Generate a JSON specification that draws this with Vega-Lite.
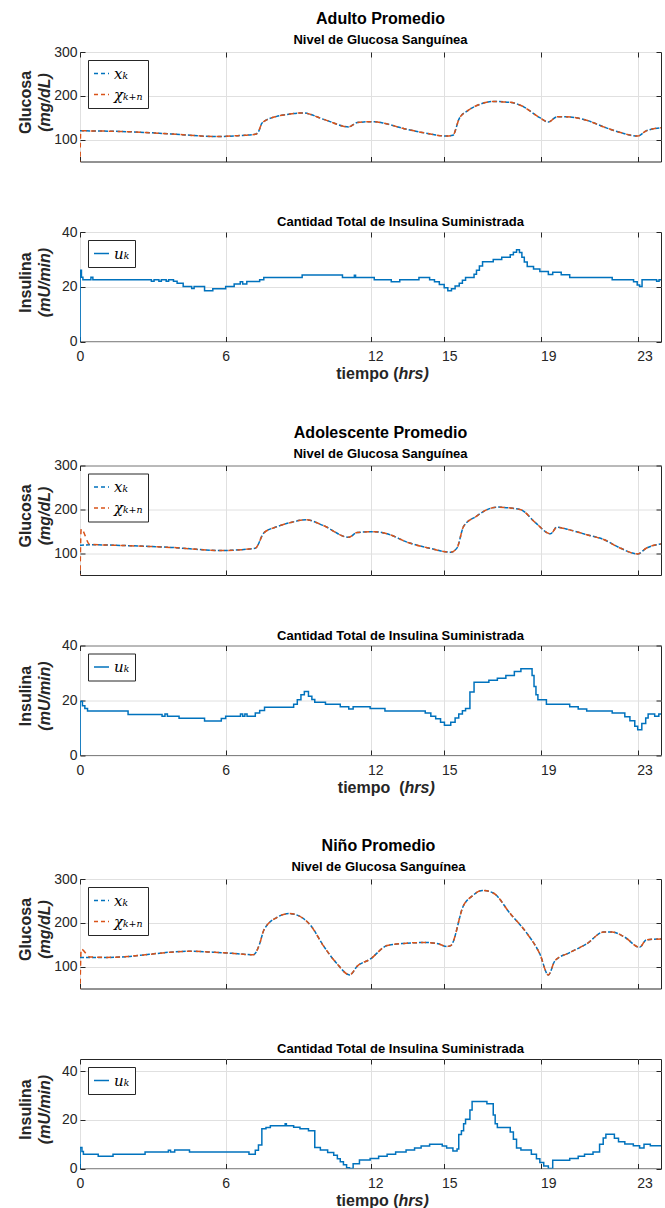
{
"$schema": "https://vega.github.io/schema/vega-lite/v6.json",
"background": "white",
"padding": {"left": 16, "top": 10, "right": 2, "bottom": 0},
"config": {
  "view": {"stroke": "#262626", "strokeWidth": 1},
  "axis": {"grid": false, "gridColor": "#e0e0e0", "gridWidth": 1, "domain": false, "tickColor": "#262626", "tickSize": -5, "tickWidth": 1, "labelFont": "Liberation Sans", "labelFontSize": 14, "labelColor": "#262626", "labelFlush": false, "titleFont": "Liberation Sans", "titleFontSize": 16, "titleFontWeight": "bold", "titleColor": "#262626"},
  "title": {"font": "Liberation Sans", "fontWeight": "bold", "color": "#000000", "subtitleFont": "Liberation Sans", "subtitleFontWeight": "bold", "subtitleColor": "#000000", "anchor": "middle"},
  "legend": {"orient": "top-left", "offset": 8, "padding": 5, "strokeColor": "#262626", "fillColor": "white", "symbolType": "stroke", "symbolSize": 225, "symbolStrokeWidth": 1.5, "labelFont": "DejaVu Serif", "labelFontSize": 15, "labelFontStyle": "italic", "labelColor": "#000000", "rowPadding": 4}
},
"resolve": {"scale": {"color": "independent"}, "legend": {"color": "independent"}},
"spacing": 41.5,
"bounds": "full",
"vconcat": [
{
 "spacing": 70, "bounds": "flush",
 "resolve": {"scale": {"color": "independent"}, "legend": {"color": "independent"}},
 "vconcat": [
  {
   "width": 581, "height": 109.5,
   "title": {"text": "Adulto Promedio", "subtitle": "Nivel de Glucosa Sanguínea", "fontSize": 16, "subtitleFontSize": 13, "subtitlePadding": 7, "offset": -2, "dx": 10},
   "data": {"values": [
    {"t":0,"x":120,"chi":40},{"t":0.03,"x":120,"chi":120},{"t":1.98,"x":118,"chi":118},{"t":3.73,"x":113,"chi":113},{"t":5.65,"x":107,"chi":107},{"t":6.5,"x":109,"chi":109},{"t":7.22,"x":112,"chi":112},{"t":7.35,"x":118,"chi":118},{"t":7.5,"x":138,"chi":138},{"t":8.1,"x":153,"chi":153},{"t":8.6,"x":158,"chi":158},{"t":9.15,"x":161,"chi":161},{"t":10.1,"x":145,"chi":145},{"t":11.07,"x":129,"chi":129},{"t":11.42,"x":139,"chi":139},{"t":12.12,"x":141,"chi":141},{"t":12.47,"x":138,"chi":138},{"t":13.35,"x":125,"chi":125},{"t":14.22,"x":115,"chi":115},{"t":15.1,"x":108,"chi":108},{"t":15.36,"x":110,"chi":110},{"t":15.62,"x":148,"chi":148},{"t":15.97,"x":166,"chi":166},{"t":16.49,"x":181,"chi":181},{"t":17.02,"x":187,"chi":187},{"t":17.72,"x":185,"chi":185},{"t":18.16,"x":178,"chi":178},{"t":18.94,"x":150,"chi":150},{"t":19.29,"x":140,"chi":140},{"t":19.64,"x":152,"chi":152},{"t":19.99,"x":152,"chi":152},{"t":20.87,"x":144,"chi":144},{"t":21.57,"x":129,"chi":129},{"t":22.27,"x":116,"chi":116},{"t":22.97,"x":108,"chi":108},{"t":23.32,"x":120,"chi":120},{"t":23.93,"x":127,"chi":127}
   ]},
   "transform": [{"fold": ["x", "chi"], "as": ["s", "g"]}],
   "resolve": {"axis": {"x": "independent", "y": "independent"}},
   "layer": [
    {"transform": [{"filter": "datum.s == 'x'"}],
     "mark": {"type": "line", "interpolate": "monotone", "strokeWidth": 1.5, "strokeDash": [4, 2], "clip": true},
     "encoding": {
      "x": {"field": "t", "type": "quantitative", "scale": {"domain": [0, 23.93], "nice": false, "zero": false}, "axis": {"values": [0, 6, 12, 15, 19, 23], "labels": false, "grid": true, "title": null}},
      "y": {"field": "g", "type": "quantitative", "scale": {"domain": [50, 300], "nice": false, "zero": false}, "axis": {"values": [100, 200, 300], "grid": true, "labelPadding": 8, "title": "Glucosa", "titleX": -55, "titleY": 50, "titleAngle": -90, "titleAlign": "center", "titleBaseline": "middle"}},
      "color": {"field": "s", "type": "nominal", "scale": {"domain": ["x", "chi"], "range": ["#0072BD", "#D95319"]}, "legend": {"title": null, "symbolDash": [4, 3], "labelExpr": "datum.label == 'x' ? 'x\u2096' : '\u03c7\u2096\u208a\u2099'"}}
     }},
    {"transform": [{"filter": "datum.s == 'chi'"}],
     "mark": {"type": "line", "interpolate": "monotone", "strokeWidth": 1.5, "strokeDash": [5, 4], "clip": true},
     "encoding": {
      "x": {"field": "t", "type": "quantitative", "scale": {"domain": [0, 23.93], "nice": false, "zero": false}, "axis": {"orient": "top", "values": [0, 6, 12, 15, 19, 23], "labels": false, "title": null}},
      "y": {"field": "g", "type": "quantitative", "scale": {"domain": [50, 300], "nice": false, "zero": false}, "axis": {"orient": "left", "labels": false, "ticks": false, "title": "(mg/dL)", "titleFontStyle": "italic", "titleX": -36, "titleY": 50, "titleAngle": -90, "titleAlign": "center", "titleBaseline": "middle"}},
      "color": {"field": "s", "type": "nominal", "scale": {"domain": ["x", "chi"], "range": ["#0072BD", "#D95319"]}, "legend": {"title": null, "symbolDash": [4, 3], "labelExpr": "datum.label == 'x' ? 'x\u2096' : '\u03c7\u2096\u208a\u2099'"}}
     }},
    {"transform": [{"filter": "datum.s == 'x'"}],
     "mark": {"type": "line", "opacity": 0},
     "encoding": {
      "x": {"field": "t", "type": "quantitative", "scale": {"domain": [0, 23.93], "nice": false, "zero": false}, "axis": null},
      "y": {"field": "g", "type": "quantitative", "scale": {"domain": [50, 300], "nice": false, "zero": false}, "axis": {"orient": "right", "values": [100, 200, 300], "labels": false, "title": null}}
     }}
   ]
  },
  {
   "width": 581, "height": 109.5,
   "title": {"text": "Cantidad Total de Insulina Suministrada", "fontSize": 13, "offset": -4, "dx": 30},
   "data": {"values": [
    {"t":0,"u":0},{"t":0.005,"u":26},{"t":0.06,"u":23.5},{"t":0.12,"u":22.6},{"t":0.45,"u":23.5},{"t":0.53,"u":22.6},{"t":2.94,"u":22},{"t":3.05,"u":22.6},{"t":3.25,"u":22},{"t":3.35,"u":22.6},{"t":3.55,"u":22},{"t":3.65,"u":22.6},{"t":3.85,"u":22},{"t":4.0,"u":21.3},{"t":4.25,"u":20.1},{"t":4.6,"u":19.4},{"t":4.7,"u":20.1},{"t":5.13,"u":18.5},{"t":5.47,"u":19.3},{"t":6.0,"u":20.1},{"t":6.35,"u":21.0},{"t":6.6,"u":21.8},{"t":6.7,"u":21},{"t":6.87,"u":21.9},{"t":7.4,"u":22.6},{"t":7.57,"u":23.4},{"t":9.15,"u":24.3},{"t":10.81,"u":23.4},{"t":11.3,"u":24.2},{"t":11.35,"u":23.4},{"t":12.12,"u":22.6},{"t":12.82,"u":21.8},{"t":13.17,"u":22.6},{"t":13.96,"u":23.4},{"t":14.4,"u":22.6},{"t":14.6,"u":21.8},{"t":14.8,"u":20.8},{"t":15.0,"u":19.6},{"t":15.15,"u":18.5},{"t":15.3,"u":19.3},{"t":15.45,"u":20.3},{"t":15.62,"u":21.3},{"t":15.75,"u":22.4},{"t":15.88,"u":23.4},{"t":16.23,"u":24.6},{"t":16.33,"u":26},{"t":16.45,"u":27.6},{"t":16.58,"u":29.1},{"t":17.02,"u":30.0},{"t":17.37,"u":30.8},{"t":17.72,"u":31.7},{"t":17.85,"u":32.6},{"t":17.98,"u":33.5},{"t":18.1,"u":32.5},{"t":18.2,"u":30.8},{"t":18.3,"u":29},{"t":18.42,"u":27.4},{"t":18.68,"u":26.5},{"t":18.94,"u":25.6},{"t":19.29,"u":24.5},{"t":19.47,"u":25.3},{"t":19.82,"u":24.4},{"t":20.17,"u":23.4},{"t":21.92,"u":22.6},{"t":22.8,"u":21.8},{"t":22.95,"u":20.6},{"t":23.05,"u":20.1},{"t":23.15,"u":22.6},{"t":23.75,"u":22},{"t":23.85,"u":22.6},{"t":23.93,"u":22.6}
   ]},
   "resolve": {"axis": {"x": "independent", "y": "independent"}},
   "layer": [
    {"mark": {"type": "line", "interpolate": "step-after", "strokeWidth": 1.5, "clip": true},
     "encoding": {
      "x": {"field": "t", "type": "quantitative", "scale": {"domain": [0, 23.93], "nice": false, "zero": false}, "axis": {"values": [0, 6, 12, 15, 19, 23], "grid": true, "labelPadding": 13, "labelOffset": {"condition": [{"test": "datum.value == 12", "value": 4}, {"test": "datum.value == 15", "value": 5}, {"test": "datum.value == 19", "value": 7}, {"test": "datum.value == 23", "value": 6}], "value": 0}, "title": "tiempo (", "titleX": 318, "titleY": 37, "titleAlign": "right", "titleBaseline": "alphabetic"}},
      "y": {"field": "u", "type": "quantitative", "scale": {"domain": [0, 40], "nice": false, "zero": false}, "axis": {"values": [0, 20, 40], "grid": true, "labelPadding": 8, "title": "Insulina", "titleX": -55, "titleY": 50, "titleAngle": -90, "titleAlign": "center", "titleBaseline": "middle"}},
      "color": {"datum": "u", "scale": {"domain": ["u"], "range": ["#0072BD"]}, "legend": {"title": null, "labelExpr": "'u\u2096'"}}
     }},
    {"mark": {"type": "line", "opacity": 0},
     "encoding": {
      "x": {"field": "t", "type": "quantitative", "scale": {"domain": [0, 23.93], "nice": false, "zero": false}, "axis": {"orient": "top", "values": [0, 6, 12, 15, 19, 23], "labels": false, "title": null}},
      "y": {"field": "u", "type": "quantitative", "scale": {"domain": [0, 40], "nice": false, "zero": false}, "axis": {"orient": "left", "labels": false, "ticks": false, "title": "(mU/min)", "titleFontStyle": "italic", "titleX": -36, "titleY": 50, "titleAngle": -90, "titleAlign": "center", "titleBaseline": "middle"}}
     }},
    {"mark": {"type": "line", "opacity": 0},
     "encoding": {
      "x": {"field": "t", "type": "quantitative", "scale": {"domain": [0, 23.93], "nice": false, "zero": false}, "axis": {"orient": "bottom", "labels": false, "ticks": false, "title": "hrs)", "titleFontStyle": "italic", "titleX": 318, "titleY": 37, "titleAlign": "left", "titleBaseline": "alphabetic"}},
      "y": {"field": "u", "type": "quantitative", "scale": {"domain": [0, 40], "nice": false, "zero": false}, "axis": {"orient": "right", "values": [0, 20, 40], "labels": false, "title": null}}
     }}
   ]
  }
 ]
},
{
 "spacing": 70, "bounds": "flush",
 "resolve": {"scale": {"color": "independent"}, "legend": {"color": "independent"}},
 "vconcat": [
  {
   "width": 581, "height": 109.5,
   "title": {"text": "Adolescente Promedio", "subtitle": "Nivel de Glucosa Sanguínea", "fontSize": 16, "subtitleFontSize": 13, "subtitlePadding": 7, "offset": -2, "dx": 10},
   "data": {"values": [
    {"t":0,"x":118,"chi":40},{"t":0.05,"x":118,"chi":155},{"t":0.4,"x":119,"chi":120},{"t":1.98,"x":117,"chi":117},{"t":3.73,"x":113,"chi":113},{"t":5.82,"x":106,"chi":106},{"t":7.22,"x":111,"chi":111},{"t":7.57,"x":146,"chi":146},{"t":8.1,"x":160,"chi":160},{"t":8.62,"x":169,"chi":169},{"t":9.32,"x":176,"chi":176},{"t":10.02,"x":163,"chi":163},{"t":11.07,"x":136,"chi":136},{"t":11.42,"x":147,"chi":147},{"t":12.12,"x":149,"chi":149},{"t":12.65,"x":144,"chi":144},{"t":13.52,"x":124,"chi":124},{"t":14.4,"x":111,"chi":111},{"t":15.27,"x":102,"chi":102},{"t":15.53,"x":112,"chi":112},{"t":15.8,"x":161,"chi":161},{"t":16.32,"x":184,"chi":184},{"t":16.84,"x":201,"chi":201},{"t":17.19,"x":205,"chi":205},{"t":17.72,"x":203,"chi":203},{"t":18.16,"x":199,"chi":199},{"t":18.77,"x":169,"chi":169},{"t":19.38,"x":144,"chi":144},{"t":19.64,"x":159,"chi":159},{"t":20.17,"x":153,"chi":153},{"t":20.87,"x":142,"chi":142},{"t":21.57,"x":131,"chi":131},{"t":22.27,"x":111,"chi":111},{"t":22.97,"x":98,"chi":98},{"t":23.32,"x":111,"chi":111},{"t":23.93,"x":121,"chi":121}
   ]},
   "transform": [{"fold": ["x", "chi"], "as": ["s", "g"]}],
   "resolve": {"axis": {"x": "independent", "y": "independent"}},
   "layer": [
    {"transform": [{"filter": "datum.s == 'x'"}],
     "mark": {"type": "line", "interpolate": "monotone", "strokeWidth": 1.5, "strokeDash": [4, 2], "clip": true},
     "encoding": {
      "x": {"field": "t", "type": "quantitative", "scale": {"domain": [0, 23.93], "nice": false, "zero": false}, "axis": {"values": [0, 6, 12, 15, 19, 23], "labels": false, "grid": true, "title": null}},
      "y": {"field": "g", "type": "quantitative", "scale": {"domain": [50, 300], "nice": false, "zero": false}, "axis": {"values": [100, 200, 300], "grid": true, "labelPadding": 8, "title": "Glucosa", "titleX": -55, "titleY": 50, "titleAngle": -90, "titleAlign": "center", "titleBaseline": "middle"}},
      "color": {"field": "s", "type": "nominal", "scale": {"domain": ["x", "chi"], "range": ["#0072BD", "#D95319"]}, "legend": {"title": null, "symbolDash": [4, 3], "labelExpr": "datum.label == 'x' ? 'x\u2096' : '\u03c7\u2096\u208a\u2099'"}}
     }},
    {"transform": [{"filter": "datum.s == 'chi'"}],
     "mark": {"type": "line", "interpolate": "monotone", "strokeWidth": 1.5, "strokeDash": [5, 4], "clip": true},
     "encoding": {
      "x": {"field": "t", "type": "quantitative", "scale": {"domain": [0, 23.93], "nice": false, "zero": false}, "axis": {"orient": "top", "values": [0, 6, 12, 15, 19, 23], "labels": false, "title": null}},
      "y": {"field": "g", "type": "quantitative", "scale": {"domain": [50, 300], "nice": false, "zero": false}, "axis": {"orient": "left", "labels": false, "ticks": false, "title": "(mg/dL)", "titleFontStyle": "italic", "titleX": -36, "titleY": 50, "titleAngle": -90, "titleAlign": "center", "titleBaseline": "middle"}},
      "color": {"field": "s", "type": "nominal", "scale": {"domain": ["x", "chi"], "range": ["#0072BD", "#D95319"]}, "legend": {"title": null, "symbolDash": [4, 3], "labelExpr": "datum.label == 'x' ? 'x\u2096' : '\u03c7\u2096\u208a\u2099'"}}
     }},
    {"transform": [{"filter": "datum.s == 'x'"}],
     "mark": {"type": "line", "opacity": 0},
     "encoding": {
      "x": {"field": "t", "type": "quantitative", "scale": {"domain": [0, 23.93], "nice": false, "zero": false}, "axis": null},
      "y": {"field": "g", "type": "quantitative", "scale": {"domain": [50, 300], "nice": false, "zero": false}, "axis": {"orient": "right", "values": [100, 200, 300], "labels": false, "title": null}}
     }}
   ]
  },
  {
   "width": 581, "height": 109.5,
   "title": {"text": "Cantidad Total de Insulina Suministrada", "fontSize": 13, "offset": -4, "dx": 30},
   "data": {"values": [
    {"t":0,"u":0},{"t":0.005,"u":19.5},{"t":0.1,"u":18},{"t":0.2,"u":17},{"t":0.31,"u":16.1},{"t":1.98,"u":14.8},{"t":3.38,"u":14.2},{"t":3.5,"u":15},{"t":3.6,"u":14.2},{"t":4.08,"u":13.4},{"t":5.13,"u":12.4},{"t":5.82,"u":13.3},{"t":6.0,"u":14.2},{"t":6.61,"u":15},{"t":6.7,"u":14.2},{"t":6.79,"u":15},{"t":6.88,"u":14.2},{"t":7.22,"u":15.3},{"t":7.4,"u":16.3},{"t":7.6,"u":17.4},{"t":8.8,"u":18.5},{"t":8.95,"u":20.2},{"t":9.1,"u":22},{"t":9.24,"u":23.2},{"t":9.41,"u":21.5},{"t":9.55,"u":20.3},{"t":9.67,"u":19.3},{"t":10.11,"u":18.5},{"t":10.72,"u":17.6},{"t":11.07,"u":16.8},{"t":11.25,"u":17.6},{"t":11.95,"u":17.0},{"t":12.56,"u":16.1},{"t":14.22,"u":15.3},{"t":14.45,"u":14.2},{"t":14.65,"u":13.2},{"t":14.85,"u":12},{"t":15.01,"u":10.9},{"t":15.27,"u":12},{"t":15.45,"u":13.5},{"t":15.6,"u":15},{"t":15.75,"u":16.2},{"t":15.88,"u":17},{"t":16.06,"u":23},{"t":16.23,"u":26.6},{"t":16.84,"u":27.3},{"t":17.19,"u":28.0},{"t":17.54,"u":29},{"t":17.89,"u":30.5},{"t":18.16,"u":31.5},{"t":18.62,"u":29},{"t":18.7,"u":25},{"t":18.78,"u":22},{"t":18.86,"u":20.2},{"t":19.21,"u":18.5},{"t":20.17,"u":17.6},{"t":20.52,"u":16.8},{"t":20.87,"u":16.1},{"t":21.92,"u":15.3},{"t":22.44,"u":14},{"t":22.65,"u":12.5},{"t":22.85,"u":10.5},{"t":22.97,"u":9.2},{"t":23.14,"u":11.5},{"t":23.3,"u":13.5},{"t":23.4,"u":15},{"t":23.67,"u":14.2},{"t":23.84,"u":15},{"t":23.93,"u":15}
   ]},
   "resolve": {"axis": {"x": "independent", "y": "independent"}},
   "layer": [
    {"mark": {"type": "line", "interpolate": "step-after", "strokeWidth": 1.5, "clip": true},
     "encoding": {
      "x": {"field": "t", "type": "quantitative", "scale": {"domain": [0, 23.93], "nice": false, "zero": false}, "axis": {"values": [0, 6, 12, 15, 19, 23], "grid": true, "labelPadding": 13, "labelOffset": {"condition": [{"test": "datum.value == 12", "value": 4}, {"test": "datum.value == 15", "value": 5}, {"test": "datum.value == 19", "value": 7}, {"test": "datum.value == 23", "value": 6}], "value": 0}, "title": "tiempo \u00a0(", "titleX": 324, "titleY": 37, "titleAlign": "right", "titleBaseline": "alphabetic"}},
      "y": {"field": "u", "type": "quantitative", "scale": {"domain": [0, 40], "nice": false, "zero": false}, "axis": {"values": [0, 20, 40], "grid": true, "labelPadding": 8, "title": "Insulina", "titleX": -55, "titleY": 50, "titleAngle": -90, "titleAlign": "center", "titleBaseline": "middle"}},
      "color": {"datum": "u", "scale": {"domain": ["u"], "range": ["#0072BD"]}, "legend": {"title": null, "labelExpr": "'u\u2096'"}}
     }},
    {"mark": {"type": "line", "opacity": 0},
     "encoding": {
      "x": {"field": "t", "type": "quantitative", "scale": {"domain": [0, 23.93], "nice": false, "zero": false}, "axis": {"orient": "top", "values": [0, 6, 12, 15, 19, 23], "labels": false, "title": null}},
      "y": {"field": "u", "type": "quantitative", "scale": {"domain": [0, 40], "nice": false, "zero": false}, "axis": {"orient": "left", "labels": false, "ticks": false, "title": "(mU/min)", "titleFontStyle": "italic", "titleX": -36, "titleY": 50, "titleAngle": -90, "titleAlign": "center", "titleBaseline": "middle"}}
     }},
    {"mark": {"type": "line", "opacity": 0},
     "encoding": {
      "x": {"field": "t", "type": "quantitative", "scale": {"domain": [0, 23.93], "nice": false, "zero": false}, "axis": {"orient": "bottom", "labels": false, "ticks": false, "title": "hrs)", "titleFontStyle": "italic", "titleX": 324, "titleY": 37, "titleAlign": "left", "titleBaseline": "alphabetic"}},
      "y": {"field": "u", "type": "quantitative", "scale": {"domain": [0, 40], "nice": false, "zero": false}, "axis": {"orient": "right", "values": [0, 20, 40], "labels": false, "title": null}}
     }}
   ]
  }
 ]
},
{
 "spacing": 70, "bounds": "flush",
 "resolve": {"scale": {"color": "independent"}, "legend": {"color": "independent"}},
 "vconcat": [
  {
   "width": 581, "height": 109.5,
   "title": {"text": "Niño Promedio", "subtitle": "Nivel de Glucosa Sanguínea", "fontSize": 16, "subtitleFontSize": 13, "subtitlePadding": 7, "offset": -2, "dx": 8},
   "data": {"values": [
    {"t":0,"x":121,"chi":40},{"t":0.05,"x":121,"chi":140},{"t":0.4,"x":121,"chi":122},{"t":1.1,"x":121,"chi":121},{"t":1.98,"x":123,"chi":123},{"t":2.85,"x":128,"chi":128},{"t":3.73,"x":133,"chi":133},{"t":4.6,"x":135,"chi":135},{"t":5.47,"x":133,"chi":133},{"t":6.35,"x":130,"chi":130},{"t":7.14,"x":127,"chi":127},{"t":7.4,"x":152,"chi":152},{"t":7.57,"x":183,"chi":183},{"t":8.1,"x":212,"chi":212},{"t":8.62,"x":221,"chi":221},{"t":8.97,"x":217,"chi":217},{"t":9.5,"x":194,"chi":194},{"t":10.02,"x":148,"chi":148},{"t":10.55,"x":109,"chi":109},{"t":11.11,"x":81,"chi":81},{"t":11.42,"x":101,"chi":101},{"t":11.95,"x":117,"chi":117},{"t":12.65,"x":148,"chi":148},{"t":13.35,"x":153,"chi":153},{"t":14.22,"x":155,"chi":155},{"t":14.75,"x":152,"chi":152},{"t":15.1,"x":146,"chi":146},{"t":15.27,"x":148,"chi":148},{"t":15.8,"x":240,"chi":240},{"t":16.15,"x":261,"chi":261},{"t":16.58,"x":274,"chi":274},{"t":17.02,"x":268,"chi":268},{"t":17.72,"x":221,"chi":221},{"t":18.42,"x":175,"chi":175},{"t":18.94,"x":129,"chi":129},{"t":19.29,"x":81,"chi":81},{"t":19.56,"x":113,"chi":113},{"t":20.17,"x":132,"chi":132},{"t":20.87,"x":152,"chi":152},{"t":21.57,"x":179,"chi":179},{"t":21.92,"x":179,"chi":179},{"t":22.44,"x":167,"chi":167},{"t":23.05,"x":144,"chi":144},{"t":23.32,"x":161,"chi":161},{"t":23.93,"x":163,"chi":163}
   ]},
   "transform": [{"fold": ["x", "chi"], "as": ["s", "g"]}],
   "resolve": {"axis": {"x": "independent", "y": "independent"}},
   "layer": [
    {"transform": [{"filter": "datum.s == 'x'"}],
     "mark": {"type": "line", "interpolate": "monotone", "strokeWidth": 1.5, "strokeDash": [4, 2], "clip": true},
     "encoding": {
      "x": {"field": "t", "type": "quantitative", "scale": {"domain": [0, 23.93], "nice": false, "zero": false}, "axis": {"values": [0, 6, 12, 15, 19, 23], "labels": false, "grid": true, "title": null}},
      "y": {"field": "g", "type": "quantitative", "scale": {"domain": [50, 300], "nice": false, "zero": false}, "axis": {"values": [100, 200, 300], "grid": true, "labelPadding": 8, "title": "Glucosa", "titleX": -55, "titleY": 50, "titleAngle": -90, "titleAlign": "center", "titleBaseline": "middle"}},
      "color": {"field": "s", "type": "nominal", "scale": {"domain": ["x", "chi"], "range": ["#0072BD", "#D95319"]}, "legend": {"title": null, "symbolDash": [4, 3], "labelExpr": "datum.label == 'x' ? 'x\u2096' : '\u03c7\u2096\u208a\u2099'"}}
     }},
    {"transform": [{"filter": "datum.s == 'chi'"}],
     "mark": {"type": "line", "interpolate": "monotone", "strokeWidth": 1.5, "strokeDash": [5, 4], "clip": true},
     "encoding": {
      "x": {"field": "t", "type": "quantitative", "scale": {"domain": [0, 23.93], "nice": false, "zero": false}, "axis": {"orient": "top", "values": [0, 6, 12, 15, 19, 23], "labels": false, "title": null}},
      "y": {"field": "g", "type": "quantitative", "scale": {"domain": [50, 300], "nice": false, "zero": false}, "axis": {"orient": "left", "labels": false, "ticks": false, "title": "(mg/dL)", "titleFontStyle": "italic", "titleX": -36, "titleY": 50, "titleAngle": -90, "titleAlign": "center", "titleBaseline": "middle"}},
      "color": {"field": "s", "type": "nominal", "scale": {"domain": ["x", "chi"], "range": ["#0072BD", "#D95319"]}, "legend": {"title": null, "symbolDash": [4, 3], "labelExpr": "datum.label == 'x' ? 'x\u2096' : '\u03c7\u2096\u208a\u2099'"}}
     }},
    {"transform": [{"filter": "datum.s == 'x'"}],
     "mark": {"type": "line", "opacity": 0},
     "encoding": {
      "x": {"field": "t", "type": "quantitative", "scale": {"domain": [0, 23.93], "nice": false, "zero": false}, "axis": null},
      "y": {"field": "g", "type": "quantitative", "scale": {"domain": [50, 300], "nice": false, "zero": false}, "axis": {"orient": "right", "values": [100, 200, 300], "labels": false, "title": null}}
     }}
   ]
  },
  {
   "width": 581, "height": 109.5,
   "title": {"text": "Cantidad Total de Insulina Suministrada", "fontSize": 13, "offset": 3, "dx": 30},
   "data": {"values": [
    {"t":0,"u":0},{"t":0.005,"u":8.6},{"t":0.08,"u":7},{"t":0.14,"u":5.9},{"t":0.75,"u":5.0},{"t":1.36,"u":5.9},{"t":2.68,"u":6.8},{"t":3.64,"u":7.5},{"t":3.73,"u":6.8},{"t":3.9,"u":7.6},{"t":4.51,"u":6.8},{"t":6.96,"u":5.9},{"t":7.22,"u":7.5},{"t":7.35,"u":9.7},{"t":7.49,"u":16.3},{"t":7.66,"u":16.8},{"t":7.84,"u":17.6},{"t":8.45,"u":18.4},{"t":8.5,"u":17.6},{"t":8.8,"u":17.0},{"t":9.06,"u":16.3},{"t":9.41,"u":15.5},{"t":9.67,"u":8.6},{"t":9.9,"u":7.6},{"t":10.2,"u":6.6},{"t":10.45,"u":5.4},{"t":10.6,"u":4},{"t":10.72,"u":2.8},{"t":10.85,"u":1.5},{"t":10.98,"u":0.3},{"t":11.1,"u":0},{"t":11.25,"u":2},{"t":11.51,"u":3.5},{"t":11.95,"u":4.1},{"t":12.3,"u":5},{"t":12.65,"u":5.9},{"t":13.0,"u":6.8},{"t":13.43,"u":7.6},{"t":13.78,"u":8.4},{"t":14.05,"u":9.2},{"t":14.4,"u":10},{"t":14.92,"u":9.2},{"t":15.1,"u":8.4},{"t":15.36,"u":7.2},{"t":15.53,"u":8},{"t":15.6,"u":14},{"t":15.71,"u":15.5},{"t":15.8,"u":18.4},{"t":15.88,"u":20.2},{"t":16.06,"u":24},{"t":16.15,"u":27.5},{"t":16.76,"u":26.6},{"t":17.02,"u":22},{"t":17.1,"u":18.4},{"t":17.19,"u":16.8},{"t":17.72,"u":15},{"t":17.85,"u":12},{"t":17.98,"u":8.4},{"t":18.16,"u":7.6},{"t":18.59,"u":5.9},{"t":18.8,"u":4},{"t":18.94,"u":2.5},{"t":19.1,"u":1},{"t":19.29,"u":0},{"t":19.47,"u":3.4},{"t":20.17,"u":4.1},{"t":20.52,"u":5},{"t":20.78,"u":5.9},{"t":21.13,"u":6.8},{"t":21.4,"u":10},{"t":21.55,"u":12.5},{"t":21.66,"u":14.1},{"t":22.01,"u":12.4},{"t":22.18,"u":11},{"t":22.44,"u":10.1},{"t":22.79,"u":9.3},{"t":23.05,"u":8.4},{"t":23.23,"u":10},{"t":23.49,"u":9.3},{"t":23.93,"u":9.3}
   ]},
   "resolve": {"axis": {"x": "independent", "y": "independent"}},
   "layer": [
    {"mark": {"type": "line", "interpolate": "step-after", "strokeWidth": 1.5, "clip": true},
     "encoding": {
      "x": {"field": "t", "type": "quantitative", "scale": {"domain": [0, 23.93], "nice": false, "zero": false}, "axis": {"values": [0, 6, 12, 15, 19, 23], "grid": true, "labelPadding": 13, "labelOffset": {"condition": [{"test": "datum.value == 12", "value": 4}, {"test": "datum.value == 15", "value": 5}, {"test": "datum.value == 19", "value": 7}, {"test": "datum.value == 23", "value": 6}], "value": 0}, "title": "tiempo (", "titleX": 318, "titleY": 37, "titleAlign": "right", "titleBaseline": "alphabetic"}},
      "y": {"field": "u", "type": "quantitative", "scale": {"domain": [0, 45], "nice": false, "zero": false}, "axis": {"values": [0, 20, 40], "grid": true, "labelPadding": 8, "title": "Insulina", "titleX": -55, "titleY": 50, "titleAngle": -90, "titleAlign": "center", "titleBaseline": "middle"}},
      "color": {"datum": "u", "scale": {"domain": ["u"], "range": ["#0072BD"]}, "legend": {"title": null, "labelExpr": "'u\u2096'"}}
     }},
    {"mark": {"type": "line", "opacity": 0},
     "encoding": {
      "x": {"field": "t", "type": "quantitative", "scale": {"domain": [0, 23.93], "nice": false, "zero": false}, "axis": {"orient": "top", "values": [0, 6, 12, 15, 19, 23], "labels": false, "title": null}},
      "y": {"field": "u", "type": "quantitative", "scale": {"domain": [0, 45], "nice": false, "zero": false}, "axis": {"orient": "left", "labels": false, "ticks": false, "title": "(mU/min)", "titleFontStyle": "italic", "titleX": -36, "titleY": 50, "titleAngle": -90, "titleAlign": "center", "titleBaseline": "middle"}}
     }},
    {"mark": {"type": "line", "opacity": 0},
     "encoding": {
      "x": {"field": "t", "type": "quantitative", "scale": {"domain": [0, 23.93], "nice": false, "zero": false}, "axis": {"orient": "bottom", "labels": false, "ticks": false, "title": "hrs)", "titleFontStyle": "italic", "titleX": 318, "titleY": 37, "titleAlign": "left", "titleBaseline": "alphabetic"}},
      "y": {"field": "u", "type": "quantitative", "scale": {"domain": [0, 45], "nice": false, "zero": false}, "axis": {"orient": "right", "values": [0, 20, 40], "labels": false, "title": null}}
     }}
   ]
  }
 ]
}
]
}
